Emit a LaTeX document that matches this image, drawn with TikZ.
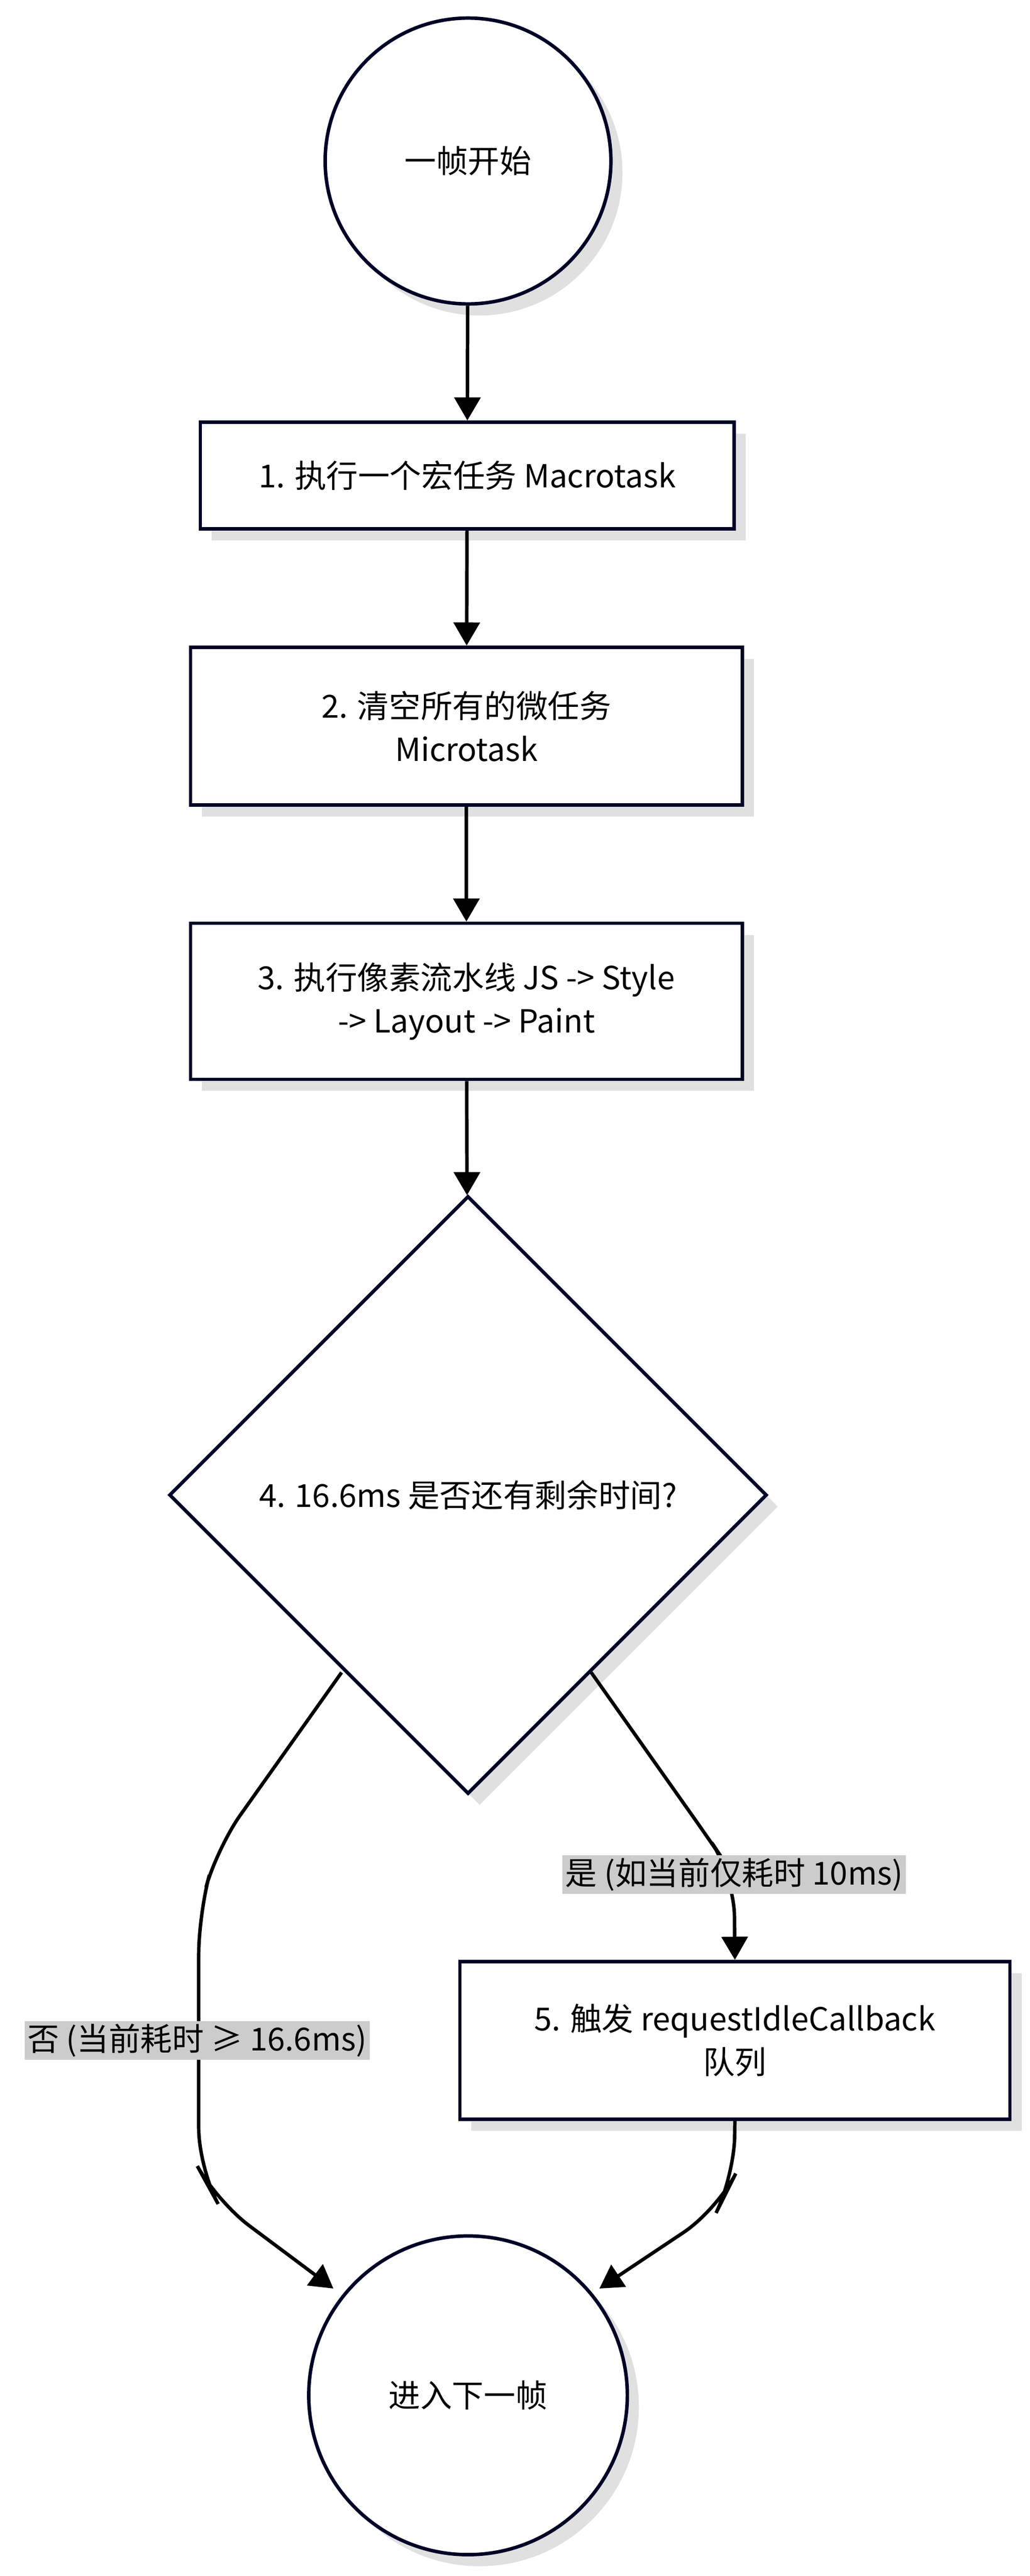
\documentclass[tikz,border=0pt]{standalone}
\usepackage{fontspec}
\setmainfont{Noto Sans CJK SC}
\usetikzlibrary{shapes.geometric,arrows.meta,shadows}
\tikzset{
  flow/.style={draw=black!85!blue,line width=1.2pt,fill=white,
    drop shadow={shadow xshift=4pt,shadow yshift=-4pt,fill=black!12,opacity=1},
    font=\fontsize{11}{15}\selectfont,align=center},
  boxnode/.style={flow,rectangle,inner sep=0pt},
  roundnode/.style={flow,circle,inner sep=0pt},
  decide/.style={flow,diamond,inner sep=0pt},
  edgelabel/.style={fill=black!20,font=\fontsize{11}{14}\selectfont,inner sep=1pt},
  link/.style={line width=1.2pt,-{Triangle[length=8pt,width=9pt]},rounded corners=14pt}
}
\begin{document}
\begin{tikzpicture}[x=0.02cm,y=-0.02cm]
  \useasboundingbox (0,0) rectangle (627,1568);
  \node[roundnode,minimum size=174*0.02cm] (start) at (285,98) {一帧开始};
  \node[boxnode,minimum width=325*0.02cm,minimum height=65*0.02cm] (macro) at (284.5,289.5) {1. 执行一个宏任务 Macrotask};
  \node[boxnode,minimum width=336*0.02cm,minimum height=96*0.02cm] (micro) at (284,442) {2. 清空所有的微任务\\Microtask};
  \node[boxnode,minimum width=336*0.02cm,minimum height=95*0.02cm] (render) at (284,609.5) {3. 执行像素流水线 JS -> Style\\-> Layout -> Paint};
  \node[decide,minimum width=364*0.02cm,minimum height=364*0.02cm] (check) at (285,910) {4. 16.6ms 是否还有剩余时间?};
  \node[boxnode,minimum width=335*0.02cm,minimum height=96*0.02cm] (idle) at (447.5,1242) {5. 触发 requestIdleCallback\\队列};
  \node[roundnode,minimum size=194*0.02cm] (next) at (285,1458) {进入下一帧};
  \draw[link] (start) -- (macro);
  \draw[link] (macro) -- (micro);
  \draw[link] (micro) -- (render);
  \draw[link] (render) -- (check);
  \coordinate (lout) at (208,1018);
  \coordinate (rout) at (360,1018);
  \draw[link] (lout) -- (132,1125) -- (121,1165) -- (121,1320) -- (132,1340) -- (203,1393);
  \draw[link] (rout) -- (437,1127) -- (447,1142) -- (idle.north);
  \draw[link] (idle.south) -- (447,1325) -- (437,1345) -- (365,1393);
  \node[edgelabel] (nolabel) at (120,1242) {否 (当前耗时 ≥ 16.6ms)};
  \node[edgelabel] (yeslabel) at (447,1141) {是 (如当前仅耗时 10ms)};
\end{tikzpicture}
\end{document}
